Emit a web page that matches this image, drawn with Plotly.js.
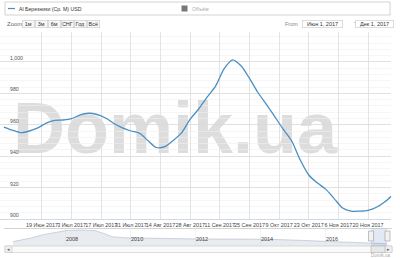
<!DOCTYPE html>
<html>
<head>
<meta charset="utf-8">
<script src="https://cdn.plot.ly/plotly-3.0.1.min.js"></script>
<style>html,body{margin:0;padding:0;background:#fff;}#chart{width:400px;height:258px;}</style>
</head>
<body>
<div id="chart"></div>
<script>
// ---- data ----
const seriesName = 'Al Березники (Ср. М) USD';
const hiddenSeriesName = 'Объём';
const mainDates = ['2017-06-01','2017-06-05','2017-06-09','2017-06-13','2017-06-17','2017-06-21','2017-06-25','2017-06-29',
  '2017-07-03','2017-07-07','2017-07-11','2017-07-15','2017-07-19','2017-07-23','2017-07-27','2017-07-31',
  '2017-08-04','2017-08-08','2017-08-12','2017-08-16','2017-08-20','2017-08-24','2017-08-28',
  '2017-09-01','2017-09-05','2017-09-09','2017-09-13','2017-09-17','2017-09-21','2017-09-25','2017-09-29',
  '2017-10-03','2017-10-07','2017-10-11','2017-10-15','2017-10-19','2017-10-23','2017-10-27','2017-10-31',
  '2017-11-04','2017-11-08','2017-11-12','2017-11-16','2017-11-20','2017-11-24','2017-11-28','2017-12-01'];
const mainValues = [958.5,956.5,955,956,958,961,962.8,963,
  963.8,966.3,967.3,966.5,964.3,960.8,958,956,
  954.6,950,945.5,946,950,955,963.5,
  970,977.5,984.5,995.5,1001.3,997.5,989.5,980.5,
  973,965,957,949.5,937.5,928,923,919,
  913,907,905,905,905.5,907.5,911,914.5];
const navDates = ['2006-05-26','2006-12-01','2007-05-01','2007-11-01','2008-01-15','2008-06-15','2008-12-01',
  '2009-03-20','2009-06-15','2009-11-10','2010-08-10','2011-05-20','2012-03-01','2013-05-20','2014-04-20',
  '2015-03-20','2016-03-01','2016-12-01','2017-05-20'];
const navValues = [1210,1660,2150,2580,2720,2790,2720,2290,1870,1730,1660,1590,1550,1550,1520,1380,1240,1090,960];
const tickDates = ['2017-06-05','2017-06-19','2017-07-03','2017-07-17','2017-07-31','2017-08-14','2017-08-28',
  '2017-09-11','2017-09-25','2017-10-09','2017-10-23','2017-11-06','2017-11-20'];
const tickLabels = ['','19 Июн 2017','3 Июл 2017','17 Июл 2017','31 Июл 2017','14 Авг 2017','28 Авг 2017',
  '11 Сен 2017','25 Сен 2017','9 Окт 2017','23 Окт 2017','6 Ноя 2017','20 Ноя 2017'];
const navTickDates = ['2008-01-01','2010-01-01','2012-01-01','2014-01-01','2016-01-01'];
const navTickLabels = ['2008','2010','2012','2014','2016'];
const rangeButtons = ['1м','3м','6м','СНГ','Год','Всё'];
const fromLabel = 'Июн 1, 2017';
const toLabel = 'Дек 1, 2017';

// ---- helpers (pixel -> paper) ----
const W = 400, H = 258;
const X = p => p / W;
const Y = p => 1 - p / H;
const FONT = 'Liberation Sans, Arial, sans-serif';

const lineColor = '#4a8fc2';

const traces = [
  {x: navDates.concat(mainDates), y: navValues.concat(mainValues), xaxis: 'x2', yaxis: 'y2',
   type: 'scatter', mode: 'lines', fill: 'tozeroy', line: {color: 'rgba(165,176,198,0.85)', width: 0.6},
   fillcolor: 'rgba(205,211,222,0.45)', hoverinfo: 'skip', showlegend: false},
  {x: mainDates, y: mainValues, type: 'scatter', mode: 'lines',
   line: {color: lineColor, width: 1.3, shape: 'spline', smoothing: 0.8}, name: seriesName, showlegend: false}
];

const annotations = [];
// legend
annotations.push({xref:'paper', yref:'paper', x: X(17), y: Y(8.5), xanchor:'left', yanchor:'middle',
  text: seriesName, showarrow:false, font:{family:FONT, size:5.2, color:'#333'}});
annotations.push({xref:'paper', yref:'paper', x: X(190), y: Y(8.5), xanchor:'left', yanchor:'middle',
  text: hiddenSeriesName, showarrow:false, font:{family:FONT, size:5.2, color:'#aaa'}});
// zoom label and buttons
annotations.push({xref:'paper', yref:'paper', x: X(5), y: Y(24), xanchor:'left', yanchor:'middle',
  text: 'Zoom', showarrow:false, font:{family:FONT, size:6, color:'#666'}});
rangeButtons.forEach((b, i) => {
  annotations.push({xref:'paper', yref:'paper', x: X(28.3 + i * 13.1), y: Y(24), xanchor:'center', yanchor:'middle',
    text: b, showarrow:false, width: 10.5, height: 5.6, borderpad: 0.5, bgcolor:'#f7f7f7', bordercolor:'#c8c8c8', borderwidth: 0.6,
    font:{family:FONT, size:5.5, color:'#333'}});
});
annotations.push({xref:'paper', yref:'paper', x: X(300), y: Y(24), xanchor:'right', yanchor:'middle',
  text: 'From', showarrow:false, font:{family:FONT, size:5.5, color:'#888'}});
annotations.push({xref:'paper', yref:'paper', x: X(322.7), y: Y(24), xanchor:'center', yanchor:'middle',
  text: fromLabel, showarrow:false, width: 39, height: 5.6, borderpad: 0.5, bgcolor:'#fff', bordercolor:'#c8c8c8', borderwidth: 0.6,
  font:{family:FONT, size:5.5, color:'#333'}});
annotations.push({xref:'paper', yref:'paper', x: X(352), y: Y(24), xanchor:'left', yanchor:'middle',
  text: 'To', showarrow:false, font:{family:FONT, size:5.5, color:'#888'}});
annotations.push({xref:'paper', yref:'paper', x: X(374.5), y: Y(24), xanchor:'center', yanchor:'middle',
  text: toLabel, showarrow:false, width: 37, height: 5.6, borderpad: 0.5, bgcolor:'#fff', bordercolor:'#c8c8c8', borderwidth: 0.6,
  font:{family:FONT, size:5.5, color:'#333'}});
// scrollbar arrows & credit
annotations.push({xref:'paper', yref:'paper', x: X(8.5), y: Y(249.3), xanchor:'center', yanchor:'middle',
  text: '◂', showarrow:false, font:{family:FONT, size:5, color:'#666'}});
annotations.push({xref:'paper', yref:'paper', x: X(388.5), y: Y(249.3), xanchor:'center', yanchor:'middle',
  text: '▸', showarrow:false, font:{family:FONT, size:5, color:'#666'}});
annotations.push({xref:'paper', yref:'paper', x: X(393), y: Y(255.5), xanchor:'right', yanchor:'middle',
  text: 'Domik.ua', showarrow:false, font:{family:FONT, size:4.5, color:'#aaa'}});

const shapes = [
  // watermark (between gridlines and traces)
  {type:'rect', xref:'paper', yref:'paper', x0: X(5), x1: X(345), y0: Y(165), y1: Y(77), layer:'between',
   line:{width:0}, fillcolor:'rgba(0,0,0,0)',
   label:{text:'Domik.ua', textposition:'middle center',
     font:{family:'Liberation Sans Narrow, Liberation Sans, Arial', size:72, color:'#dddddd', weight:'bold'}}},
  // legend box
  {type:'rect', xref:'paper', yref:'paper', x0: X(5), x1: X(390), y0: Y(15), y1: Y(2), line:{color:'#c8c8c8', width:0.8}, fillcolor:'rgba(0,0,0,0)'},
  {type:'line', xref:'paper', yref:'paper', x0: X(8), x1: X(15), y0: Y(8.5), y1: Y(8.5), line:{color:lineColor, width:1.2}},
  {type:'rect', xref:'paper', yref:'paper', x0: X(181.5), x1: X(187.5), y0: Y(11.5), y1: Y(5.5), line:{width:0}, fillcolor:'#777'},
  // navigator top outline
  {type:'line', xref:'paper', yref:'paper', x0: X(4), x1: X(392), y0: Y(228.5), y1: Y(228.5), line:{color:'#c0c0c0', width:0.7}},
  // navigator selection
  {type:'rect', xref:'x2', yref:'y2 domain', x0: mainDates[0], x1: mainDates[mainDates.length-1], y0: 0, y1: 1,
   line:{width:0}, fillcolor:'rgba(102,133,194,0.18)'},
  // handles
  {type:'rect', xref:'paper', yref:'paper', x0: X(368.5), x1: X(373.5), y0: Y(241), y1: Y(231), line:{color:'#999', width:0.6}, fillcolor:'#f2f2f2'},
  {type:'rect', xref:'paper', yref:'paper', x0: X(385), x1: X(390), y0: Y(241), y1: Y(231), line:{color:'#999', width:0.6}, fillcolor:'#f2f2f2'},
  // scrollbar
  {type:'rect', xref:'paper', yref:'paper', x0: X(5), x1: X(392), y0: Y(252.5), y1: Y(246), line:{color:'#c8c8c8', width:0.6}, fillcolor:'#fafafa'},
  {type:'rect', xref:'paper', yref:'paper', x0: X(5), x1: X(12), y0: Y(252.5), y1: Y(246), line:{color:'#c8c8c8', width:0.6}, fillcolor:'#f0f0f0'},
  {type:'rect', xref:'paper', yref:'paper', x0: X(385), x1: X(392), y0: Y(252.5), y1: Y(246), line:{color:'#c8c8c8', width:0.6}, fillcolor:'#f0f0f0'},
  {type:'rect', xref:'paper', yref:'paper', x0: X(371), x1: X(385), y0: Y(252.5), y1: Y(246), line:{color:'#b0b0b0', width:0.6}, fillcolor:'#e8e8e8'}
];

const layout = {
  width: W, height: H,
  margin: {l:0, r:0, t:0, b:0},
  paper_bgcolor: '#fff', plot_bgcolor: 'rgba(0,0,0,0)',
  font: {family: FONT, size: 6, color: '#555'},
  showlegend: false,
  xaxis: {
    type: 'date', domain: [0, X(391.3)], range: ['2017-05-30 04:00', '2017-12-01'],
    tickmode: 'array', tickvals: tickDates, ticktext: tickLabels, tickangle: 0,
    showgrid: true, gridcolor: '#dddddd', gridwidth: 0.8,
    showline: true, linecolor: '#c0d0e0', linewidth: 0.8,
    ticks: '', tickfont: {family: FONT, size: 5.4, color: '#444'}, ticklabelstandoff: 1,
    zeroline: false, fixedrange: true
  },
  yaxis: {
    domain: [Y(219), Y(32)], range: [900, 1019],
    tickmode: 'linear', tick0: 900, dtick: 20, tickformat: ',d',
    showgrid: true, gridcolor: '#d9d9d9', gridwidth: 0.8,
    minor: {dtick: 4, tick0: 900, showgrid: true, gridcolor: '#f0f0f0', gridwidth: 0.6},
    ticklabelposition: 'inside top', ticklabelstandoff: 7,
    ticks: '', tickfont: {family: FONT, size: 5.2, color: '#555'},
    zeroline: false, showline: false, fixedrange: true
  },
  xaxis2: {
    type: 'date', anchor: 'y2', domain: [X(13), X(387.3)], range: ['2006-05-26', '2017-12-01'],
    tickmode: 'array', tickvals: navTickDates, ticktext: navTickLabels, tickangle: 0,
    ticklabelposition: 'inside', ticklabelshift: 7, ticklabelstandoff: 1,
    showgrid: true, gridcolor: '#ececec', gridwidth: 0.6,
    ticks: '', tickfont: {family: FONT, size: 5.5, color: '#444'},
    zeroline: false, showline: false, fixedrange: true
  },
  yaxis2: {
    anchor: 'x2', domain: [Y(246), Y(228.5)], range: [600, 3000],
    showgrid: false, showticklabels: false, zeroline: false, ticks: '', fixedrange: true
  },
  annotations: annotations,
  shapes: shapes
};

Plotly.newPlot('chart', traces, layout, {displayModeBar: false, staticPlot: true});
</script>
</body>
</html>
